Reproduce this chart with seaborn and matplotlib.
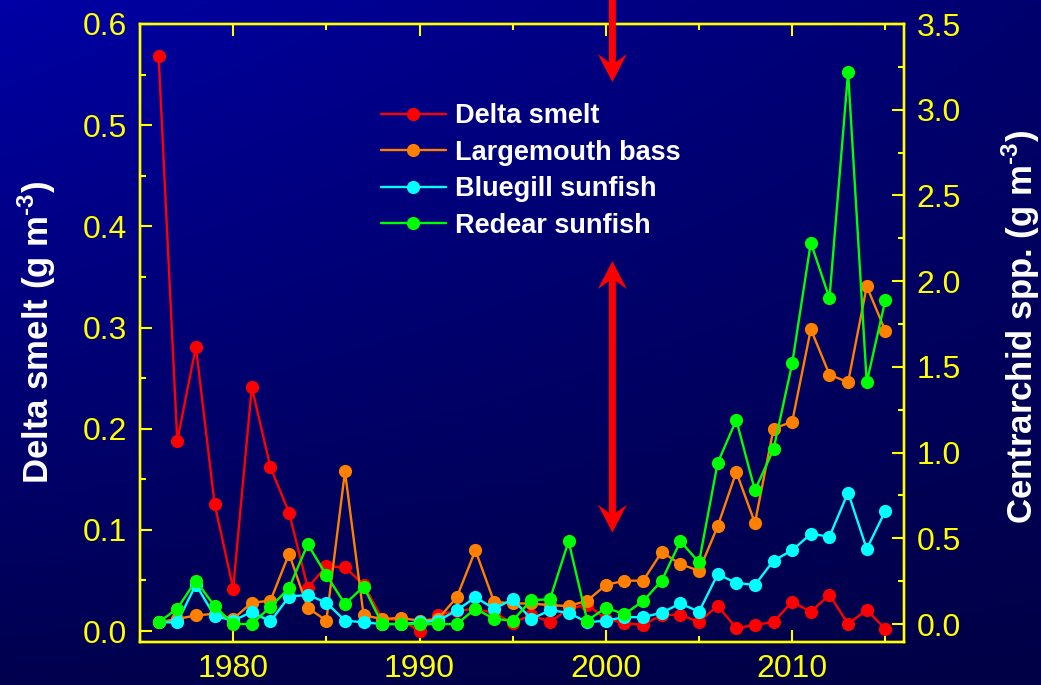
import numpy as np
import matplotlib
matplotlib.use("Agg")
import matplotlib.pyplot as plt
import matplotlib.patches as mpatches
from matplotlib.transforms import IdentityTransform
from matplotlib.ticker import MultipleLocator, FormatStrFormatter
import seaborn as sns

# data
years = list(range(1976, 2016))

delta_smelt = [0.568, 0.188, 0.281, 0.126, 0.042, 0.241, 0.162, 0.117, 0.043, 0.064,
               0.063, 0.046, 0.012, 0.011, 0.000, 0.016, 0.020, 0.022, 0.018, 0.008,
               0.016, 0.009, 0.022, 0.026, 0.012, 0.008, 0.006, 0.016, 0.016, 0.009,
               0.025, 0.003, 0.006, 0.009, 0.029, 0.019, 0.036, 0.007, 0.021, 0.002]

largemouth_bass = [0.01, 0.03, 0.05, 0.06, 0.03, 0.125, 0.136, 0.41, 0.095, 0.02,
                   0.89, 0.05, 0.03, 0.035, 0.02, 0.03, 0.156, 0.43, 0.13, 0.12,
                   0.12, 0.11, 0.105, 0.136, 0.228, 0.253, 0.253, 0.42, 0.35, 0.31,
                   0.57, 0.887, 0.59, 1.14, 1.18, 1.72, 1.455, 1.41, 1.97, 1.71]

bluegill_sunfish = [0.01, 0.01, 0.23, 0.047, 0.02, 0.07, 0.015, 0.16, 0.17, 0.125,
                    0.02, 0.01, 0.0, 0.0, 0.01, 0.02, 0.08, 0.156, 0.09, 0.144,
                    0.03, 0.08, 0.066, 0.01, 0.02, 0.04, 0.04, 0.066, 0.12, 0.072,
                    0.29, 0.24, 0.228, 0.37, 0.43, 0.526, 0.51, 0.767, 0.438, 0.66]

redear_sunfish = [0.01, 0.09, 0.253, 0.105, 0.0, 0.0, 0.10, 0.21, 0.466, 0.286,
                  0.117, 0.218, 0.0, 0.0, 0.0, 0.0, 0.0, 0.09, 0.03, 0.02,
                  0.14, 0.144, 0.483, 0.02, 0.095, 0.058, 0.134, 0.253, 0.483, 0.36,
                  0.94, 1.19, 0.78, 1.02, 1.52, 2.225, 1.90, 3.22, 1.41, 1.89]

sns.set_theme(style="ticks")
plt.rcParams['font.family'] = ['Liberation Sans', 'DejaVu Sans']
plt.rcParams['mathtext.fontset'] = 'custom'
plt.rcParams['mathtext.rm'] = 'Liberation Sans:bold'
plt.rcParams['mathtext.bf'] = 'Liberation Sans:bold'

YELLOW = "#FFFF00"
W, H = 1041, 685
fig = plt.figure(figsize=(W / 100, H / 100), dpi=100)

# gradient background
bg = fig.add_axes([0, 0, 1, 1], zorder=-10)
gx = np.linspace(0, 1, 200)
gy = np.linspace(0, 1, 200)
GX, GY = np.meshgrid(gx, gy)
blue = (165 * (1 - GX) * (1 - GY) + 110 * GX * (1 - GY)
        + 78 * (1 - GX) * GY + 70 * GX * GY) / 255
img = np.dstack([np.zeros_like(blue), np.zeros_like(blue), blue])
bg.imshow(img, aspect="auto", extent=[0, 1, 0, 1], origin="upper")
bg.axis("off")

left, right, top, bottom = 140, 904, 24, 641.7
ax = fig.add_axes([left / W, (H - bottom) / H, (right - left) / W, (bottom - top) / H])
ax.set_facecolor("none")
ax2 = ax.twinx()

mk = dict(marker="o", markersize=9.5, markeredgewidth=0, linewidth=1.7)
sns.lineplot(x=years, y=delta_smelt, ax=ax, color="#FF0000", label="Delta smelt", legend=False, **mk)
sns.lineplot(x=years, y=largemouth_bass, ax=ax2, color="#FF8000", label="Largemouth bass", legend=False, **mk)
sns.lineplot(x=years, y=bluegill_sunfish, ax=ax2, color="#00FFFF", label="Bluegill sunfish", legend=False, **mk)
sns.lineplot(x=years, y=redear_sunfish, ax=ax2, color="#00FF00", label="Redear sunfish", legend=False, **mk)

ax.set_xlim(1975, 2016)
ax.set_ylim(-0.0105, 0.6)
ax2.set_ylim(-0.103, 3.5)

ax.xaxis.set_major_locator(MultipleLocator(10))
ax.xaxis.set_minor_locator(MultipleLocator(5))
ax.yaxis.set_major_locator(MultipleLocator(0.1))
ax.yaxis.set_minor_locator(MultipleLocator(0.05))
ax.yaxis.set_major_formatter(FormatStrFormatter("%.1f"))
ax2.yaxis.set_major_locator(MultipleLocator(0.5))
ax2.yaxis.set_minor_locator(MultipleLocator(0.25))
ax2.yaxis.set_major_formatter(FormatStrFormatter("%.1f"))

for a in (ax, ax2):
    for s in a.spines.values():
        s.set_color(YELLOW)
        s.set_linewidth(1.7)
    a.set_xlabel("")

ax.tick_params(axis="both", which="both", direction="in", colors=YELLOW,
               labelcolor=YELLOW, labelsize=23, width=1.5, pad=9,
               top=True, bottom=True, left=True, right=False)
ax.tick_params(which="major", length=8.5)
ax.tick_params(which="minor", length=4.5)
ax2.tick_params(axis="y", which="both", direction="in", colors=YELLOW,
                labelcolor=YELLOW, labelsize=23, width=1.5, pad=9)
ax2.tick_params(which="major", length=8.5)
ax2.tick_params(which="minor", length=4.5)

ax.set_ylabel(r"Delta smelt (g m$^{\text{-3}}$)", color="white", fontsize=25, fontweight="bold")
ax.yaxis.set_label_coords(-0.107, 0.5)
ax2.set_ylabel(r"Centrarchid spp. (g m$^{\text{-3}}$)", color="white", fontsize=25, fontweight="bold")
ax2.yaxis.set_label_coords(1.125, 0.51)

# legend
h1, l1 = ax.get_legend_handles_labels()
h2, l2 = ax2.get_legend_handles_labels()
leg = ax2.legend(h1 + h2, l1 + l2, loc="upper left", bbox_to_anchor=(0.315, 0.872),
                 frameon=False, borderpad=0, borderaxespad=0, handlelength=2.4,
                 handletextpad=0.35, labelspacing=0.39,
                 prop={"family": "Liberation Sans", "weight": "bold", "size": 19.5})
for t in leg.get_texts():
    t.set_color("white")


# red stealth arrows drawn in display pixels
def arrow_poly(x0, y0, x1, y1, double=False, L=28, Hw=14.5, n=8, w=3.5):
    S = ax.transData.transform((x0, y0))
    T = ax.transData.transform((x1, y1))
    u = (T - S) / np.hypot(*(T - S))
    p = np.array([-u[1], u[0]])
    pts = [T, T - u * L + p * Hw, T - u * (L - n) + p * w]
    if double:
        pts += [S + u * (L - n) + p * w, S + u * L + p * Hw, S,
                S + u * L - p * Hw, S + u * (L - n) - p * w]
    else:
        pts += [S + p * w, S - p * w]
    pts += [T - u * (L - n) - p * w, T - u * L - p * Hw]
    poly = mpatches.Polygon(np.array(pts), closed=True, facecolor="#FF0000",
                            edgecolor="none", transform=IdentityTransform(), zorder=20)
    fig.add_artist(poly)


arrow_poly(2000.35, 0.63, 2000.35, 0.5426)
arrow_poly(2000.35, 0.0973, 2000.35, 0.3656, double=True)

fig.savefig("out.png", dpi=100)
